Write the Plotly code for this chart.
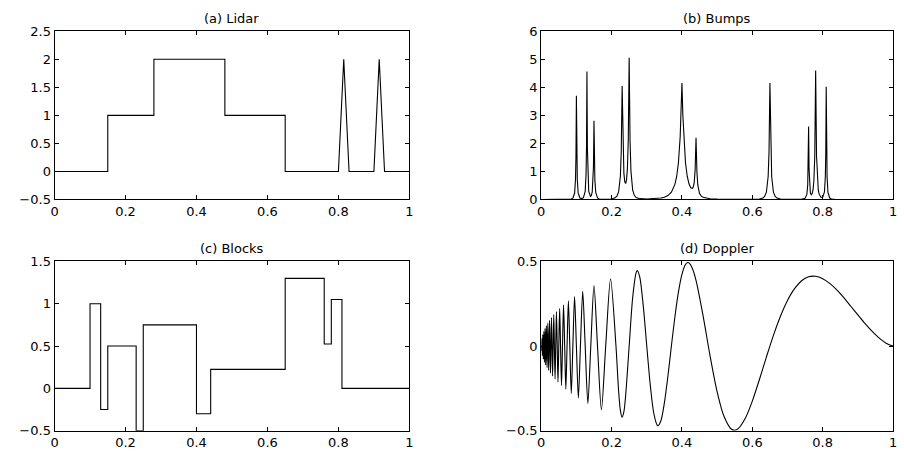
import plotly.graph_objects as go

# ---------------- data ----------------
titles = ["(a) Lidar", "(b) Bumps", "(c) Blocks", "(d) Doppler"]

lidar_x = [0, 0.15, 0.15, 0.28, 0.28, 0.48, 0.48, 0.65, 0.65, 0.80, 0.815, 0.83, 0.90, 0.915, 0.93, 1.0]
lidar_y = [0, 0, 1, 1, 2, 2, 1, 1, 0, 0, 2, 0, 0, 2, 0, 0]

bumps_x = [0, 0.06, 0.08, 0.085, 0.09, 0.095, 0.0975, 0.09875, 0.1, 0.10125, 0.1025, 0.105,
           0.11, 0.115, 0.12, 0.125, 0.1275, 0.12875, 0.13, 0.13125, 0.1325, 0.135,
           0.14, 0.1425, 0.145, 0.1475, 0.1485, 0.15, 0.1515, 0.1525, 0.155, 0.16,
           0.165, 0.175, 0.19, 0.2, 0.21, 0.215, 0.22, 0.225, 0.2275, 0.23,
           0.2325, 0.235, 0.2375, 0.24, 0.2425, 0.245, 0.2475, 0.25, 0.2525, 0.255,
           0.26, 0.265, 0.27, 0.28, 0.30, 0.32, 0.34, 0.35, 0.36, 0.37,
           0.38, 0.385, 0.39, 0.395, 0.3975, 0.4, 0.4025, 0.405, 0.41, 0.415,
           0.42, 0.425, 0.43, 0.4325, 0.435, 0.4375, 0.44, 0.4425, 0.445, 0.45,
           0.455, 0.46, 0.47, 0.48, 0.5, 0.53, 0.56, 0.6, 0.62, 0.63,
           0.635, 0.64, 0.645, 0.6475, 0.65, 0.6525, 0.655, 0.66, 0.665, 0.67,
           0.68, 0.7, 0.72, 0.74, 0.75, 0.755, 0.7575, 0.75875, 0.76, 0.76125,
           0.7625, 0.765, 0.7675, 0.77, 0.7725, 0.775, 0.7775, 0.78, 0.7825, 0.785,
           0.7875, 0.79, 0.795, 0.8, 0.805, 0.8075, 0.80875, 0.81, 0.81125, 0.8125,
           0.815, 0.82, 0.825, 0.835, 0.86, 1.0]
bumps_y = [0, 0.005, 0.008, 0.015, 0.046, 0.23, 0.73, 1.52, 3.7, 1.52, 0.73, 0.235,
           0.053, 0.034, 0.064, 0.29, 0.91, 1.87, 4.56, 1.87, 0.91, 0.30,
           0.11, 0.14, 0.27, 0.71, 1.16, 2.81, 1.15, 0.70, 0.25, 0.057,
           0.02, 0.007, 0.009, 0.02, 0.058, 0.116, 0.27, 0.83, 1.71, 4.05,
           1.75, 0.93, 0.63, 0.57, 0.70, 1.10, 2.14, 5.05, 2.11, 1.03,
           0.33, 0.14, 0.07, 0.03, 0.017, 0.025, 0.052, 0.082, 0.14, 0.26,
           0.54, 0.82, 1.31, 2.24, 3.01, 4.15, 3.02, 2.25, 1.32, 0.83,
           0.56, 0.42, 0.40, 0.455, 0.62, 1.06, 2.2, 1.0, 0.52, 0.21,
           0.12, 0.077, 0.042, 0.026, 0.013, 0.006, 0.003, 0.004, 0.016, 0.051,
           0.106, 0.26, 0.82, 1.70, 4.15, 1.70, 0.82, 0.26, 0.106, 0.052,
           0.017, 0.004, 0.0023, 0.008, 0.041, 0.18, 0.53, 1.09, 2.6, 1.10,
           0.56, 0.23, 0.17, 0.21, 0.34, 0.67, 1.56, 4.6, 1.55, 0.66,
           0.33, 0.19, 0.083, 0.08, 0.27, 0.81, 1.66, 4.02, 1.65, 0.79,
           0.25, 0.053, 0.018, 0.004, 0.001, 0]

blocks_breaks = [0, 0.10, 0.13, 0.15, 0.23, 0.25, 0.40, 0.44, 0.65, 0.76, 0.78, 0.81, 1.0]
blocks_levels = [0, 1.0, -0.25, 0.5, -0.5, 0.75, -0.3, 0.225, 1.3, 0.525, 1.05, 0, 0]

doppler_x = [1.0, 0.98, 0.96, 0.94, 0.92, 0.90, 0.88, 0.86, 0.84, 0.82,
             0.80, 0.78, 0.76, 0.74, 0.72, 0.70, 0.68, 0.66, 0.64, 0.62,
             0.60, 0.58, 0.56, 0.55, 0.54, 0.52, 0.50, 0.48, 0.46, 0.44,
             0.43, 0.42, 0.4167, 0.41, 0.40, 0.39, 0.38, 0.37, 0.36, 0.35,
             0.34, 0.3318, 0.33, 0.32, 0.31, 0.30, 0.29, 0.28, 0.2731, 0.27,
             0.26, 0.25, 0.24, 0.235, 0.23, 0.225, 0.22,
             0.2125, 0.1971, 0.1833, 0.1711, 0.16, 0.15, 0.1409, 0.1326, 0.125, 0.118,
             0.1115, 0.1056, 0.10, 0.0948, 0.09, 0.0855, 0.0813, 0.0773, 0.0735, 0.07,
             0.0667, 0.0635, 0.0605, 0.0577, 0.055, 0.0524, 0.05, 0.0477, 0.0455, 0.0433,
             0.0413, 0.0394, 0.0375, 0.0357, 0.034, 0.0324, 0.0308, 0.0292, 0.0278, 0.0264,
             0.025, 0.0237, 0.0224, 0.0212, 0.02, 0.0189, 0.0177, 0.0167, 0.0156, 0.0146,
             0.0136, 0.0127, 0.0118, 0.0109, 0.01, 0.0092, 0.0083, 0.0075, 0.0068, 0.006,
             0.0053, 0.0045, 0.0038, 0.0032, 0.0025, 0.0019, 0.0012, 0.0006, 0.0]
doppler_y = [0, 0.017, 0.048, 0.088, 0.134, 0.184, 0.235, 0.286, 0.332, 0.370,
             0.398, 0.412, 0.409, 0.386, 0.339, 0.269, 0.176, 0.063, -0.065, -0.199,
             -0.325, -0.427, -0.488, -0.4975, -0.490, -0.418, -0.270, -0.059, 0.180, 0.388,
             0.457, 0.491, 0.493, 0.482, 0.424, 0.319, 0.173, 0, -0.180, -0.337,
             -0.443, -0.471, -0.469, -0.397, -0.231, 0, 0.239, 0.408, 0.446, 0.435,
             0.287, 0, -0.292, -0.388, -0.421, -0.380, -0.266,
             0, 0.398, 0, -0.377, 0, 0.357, 0, -0.339, 0, 0.323,
             0, -0.307, 0, 0.293, 0, -0.280, 0, 0.267, 0, -0.255,
             0, 0.244, 0, -0.233, 0, 0.223, 0, -0.213, 0, 0.204,
             0, -0.195, 0, 0.186, 0, -0.177, 0, 0.168, 0, -0.160,
             0, 0.152, 0, -0.144, 0, 0.136, 0, -0.128, 0, 0.120,
             0, -0.112, 0, 0.104, 0, -0.096, 0, 0.086, 0, -0.077,
             0, 0.067, 0, -0.056, 0, 0.044, 0, -0.024, 0]

x_ticks = [0, 0.2, 0.4, 0.6, 0.8, 1]
x_ticktext = ["0", "0.2", "0.4", "0.6", "0.8", "1"]
lidar_yticks = [-0.5, 0, 0.5, 1, 1.5, 2, 2.5]
lidar_yticktext = ["\u22120.5", "0", "0.5", "1", "1.5", "2", "2.5"]
bumps_yticks = [0, 1, 2, 3, 4, 5, 6]
bumps_yticktext = ["0", "1", "2", "3", "4", "5", "6"]
blocks_yticks = [-0.5, 0, 0.5, 1, 1.5]
blocks_yticktext = ["\u22120.5", "0", "0.5", "1", "1.5"]
doppler_yticks = [-0.5, 0, 0.5]
doppler_yticktext = ["\u22120.5", "0", "0.5"]

# ---------------- figure ----------------
W, H = 904, 459
xdom = [[51 / W, 409 / W], [542 / W, 897 / W]]
ydom = [[1 - 199 / H, 1 - 25 / H], [1 - 438 / H, 1 - 263 / H]]

FONT = "DejaVu Sans, Liberation Sans, Arial, sans-serif"
LW = 1.1

fig = go.Figure()
fig.add_trace(go.Scatter(x=lidar_x, y=lidar_y, mode="lines",
                         line=dict(color="black", width=LW), xaxis="x", yaxis="y"))
fig.add_trace(go.Scatter(x=bumps_x, y=bumps_y, mode="lines",
                         line=dict(color="black", width=LW), xaxis="x2", yaxis="y2"))
fig.add_trace(go.Scatter(x=blocks_breaks, y=blocks_levels, mode="lines",
                         line=dict(color="black", width=LW, shape="hv"), xaxis="x3", yaxis="y3"))
fig.add_trace(go.Scatter(x=doppler_x, y=doppler_y, mode="lines",
                         line=dict(color="black", width=LW, shape="spline", smoothing=0.8),
                         xaxis="x4", yaxis="y4"))

axis_common = dict(showline=True, linecolor="black", linewidth=1, mirror="ticks",
                   ticks="inside", ticklen=4, tickcolor="black", tickwidth=1,
                   showgrid=False, zeroline=False,
                   tickfont=dict(family=FONT, size=13, color="black"))

yspecs = [
    ([-0.5, 2.5], lidar_yticks, lidar_yticktext),
    ([0, 6], bumps_yticks, bumps_yticktext),
    ([-0.5, 1.5], blocks_yticks, blocks_yticktext),
    ([-0.5, 0.5], doppler_yticks, doppler_yticktext),
]

layout = dict(width=W, height=H, margin=dict(l=0, r=0, t=0, b=0),
              paper_bgcolor="white", plot_bgcolor="white", showlegend=False,
              font=dict(family=FONT, size=13, color="black"))
annotations = []
for i in range(4):
    col = i % 2
    row = i // 2
    sfx = "" if i == 0 else str(i + 1)
    layout["xaxis" + sfx] = dict(domain=xdom[col], range=[0, 1], tickvals=x_ticks,
                                 ticktext=x_ticktext, anchor="y" + sfx, **axis_common)
    yr, yt, ytt = yspecs[i]
    layout["yaxis" + sfx] = dict(domain=ydom[row], range=yr, tickvals=yt, ticktext=ytt,
                                 anchor="x" + sfx, **axis_common)
    annotations.append(dict(text=titles[i], x=(xdom[col][0] + xdom[col][1]) / 2,
                            y=ydom[row][1], xref="paper", yref="paper",
                            xanchor="center", yanchor="bottom", yshift=3,
                            showarrow=False, font=dict(family=FONT, size=13, color="black")))
layout["annotations"] = annotations
fig.update_layout(**layout)

fig.write_html("out.html", config={"displayModeBar": False},
               post_script="document.body.style.margin='0';")
